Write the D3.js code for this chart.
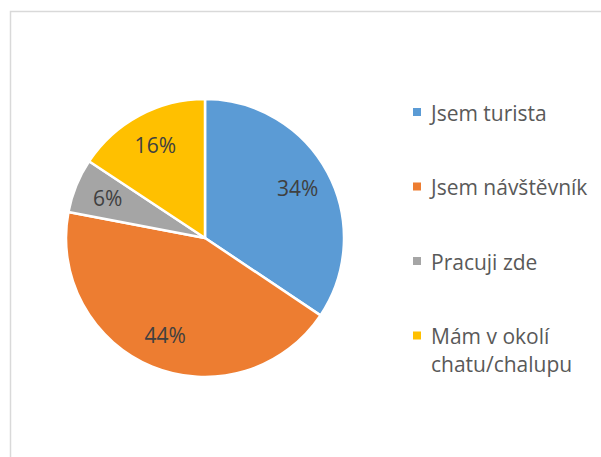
<!DOCTYPE html>
<html>
<head>
<meta charset="utf-8">
<script src="https://cdn.jsdelivr.net/npm/d3@7"></script>
<style>
  body { margin: 0; background: #fff; }
  text { font-family: "Open Sans", "Noto Sans", sans-serif; }
</style>
</head>
<body>
<script>
// categories and their shares (labels show rounded %)
var categories = ["Jsem turista", "Jsem návštěvník", "Pracuji zde", "Mám v okolí chatu/chalupu"];
var shares = [34.4, 43.6, 6.3, 15.7];
var colors = ["#5B9BD5", "#ED7D31", "#A5A5A5", "#FFC000"];

var width = 601,
    height = 457;

var svg = d3.select("body")
    .append("svg")
    .attr("width", width)
    .attr("height", height);

//chart area border
svg.append("rect")
    .attr("x", 10.5)
    .attr("y", 11.5)
    .attr("width", width)
    .attr("height", height)
    .attr("fill", "#fff")
    .attr("stroke", "#d9d9d9")
    .attr("stroke-width", 1.5);

var data = categories.map(function (c, i) {
    return { name: c, value: shares[i], color: colors[i] };
});
var total = d3.sum(shares);

var cx = 205, cy = 238, radius = 139;

var pie = d3.pie()
    .sort(null)
    .value(function (d) { return d.value; });

var arc = d3.arc().innerRadius(0).outerRadius(radius);
var labelArc = d3.arc().innerRadius(radius * 0.755).outerRadius(radius * 0.755);

var g = svg.append("g").attr("transform", "translate(" + cx + "," + cy + ")");

var arcs = pie(data);

g.selectAll(".slice")
    .data(arcs)
    .enter()
    .append("path")
    .attr("class", "slice")
    .attr("d", arc)
    .attr("fill", function (d) { return d.data.color; })
    .attr("stroke", "#fff")
    .attr("stroke-width", 2.5)
    .attr("stroke-linejoin", "round");

var fmt = d3.format(".0%");

g.selectAll(".lbl")
    .data(arcs)
    .enter()
    .append("text")
    .attr("class", "lbl")
    .attr("transform", function (d) { return "translate(" + labelArc.centroid(d) + ")"; })
    .attr("text-anchor", "middle")
    .attr("dy", "0.36em")
    .attr("font-size", 21)
    .attr("fill", "#404040")
    .text(function (d) { return fmt(d.data.value / total); });

//legend
var legendX = 413, legendY = 120.5, rowStep = 74.5, lineH = 28, maxW = 170;

var rows = svg.selectAll(".legend")
    .data(data)
    .enter()
    .append("g")
    .attr("class", "legend")
    .attr("transform", function (d, i) { return "translate(" + legendX + "," + (legendY + i * rowStep) + ")"; });

rows.append("rect")
    .attr("x", 0)
    .attr("y", -12.5)
    .attr("width", 8)
    .attr("height", 8)
    .attr("fill", function (d) { return d.color; });

rows.append("text")
    .attr("x", 18)
    .attr("y", 0)
    .attr("font-size", 21)
    .attr("fill", "#595959")
    .each(function (d) {
        var t = d3.select(this);
        var words = d.name.split(" ");
        var line = [];
        var tspan = t.append("tspan").attr("x", 18).attr("y", 0);
        var n = 0;
        words.forEach(function (w) {
            line.push(w);
            tspan.text(line.join(" "));
            if (tspan.node().getComputedTextLength() > maxW && line.length > 1) {
                line.pop();
                tspan.text(line.join(" "));
                line = [w];
                n++;
                tspan = t.append("tspan").attr("x", 18).attr("y", n * lineH).text(w);
            }
        });
    });
</script>
</body>
</html>
